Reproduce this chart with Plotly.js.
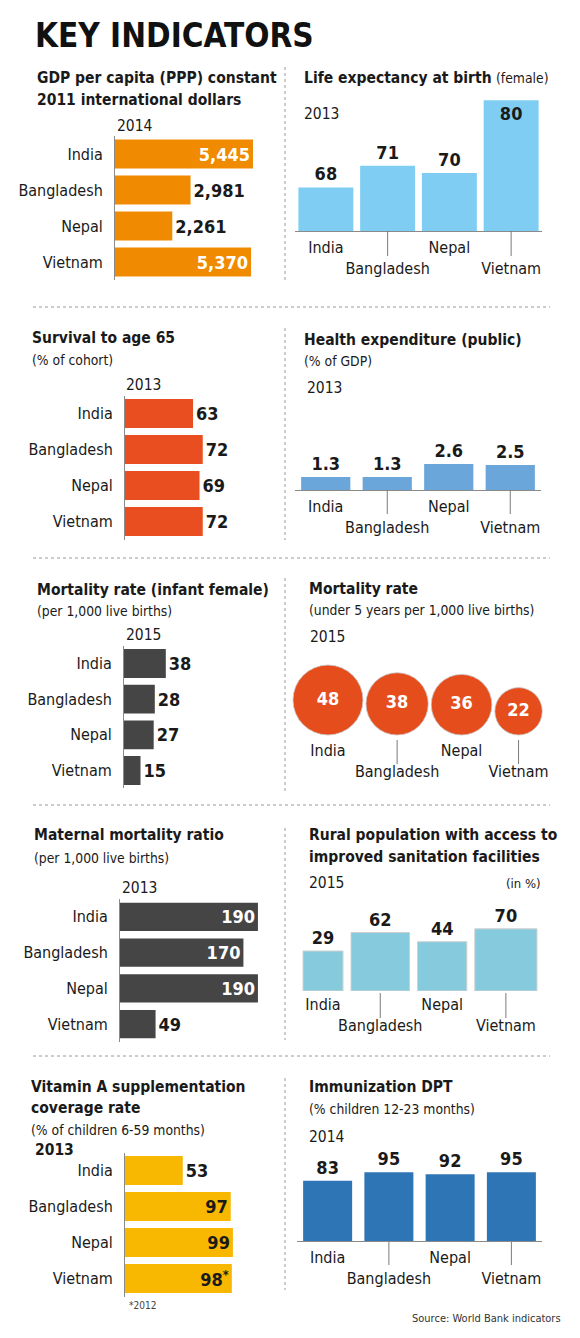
<!DOCTYPE html>
<html><head><meta charset="utf-8">
<script src="https://cdn.plot.ly/plotly-3.0.1.min.js"></script>
<style>html,body{margin:0;padding:0;background:#fff}</style>
</head><body><div id="chart" style="width:580px;height:1338px"></div>
<script>
// ---------------- DATA ----------------
const countries = ['India', 'Bangladesh', 'Nepal', 'Vietnam'];
const gdpPerCapita = [5445, 2981, 2261, 5370];        // 2014, PPP constant 2011 intl $
const lifeExpFemale = [68, 71, 70, 80];               // 2013
const survivalTo65 = [63, 72, 69, 72];                // 2013, % of cohort
const healthExpPublic = [1.3, 1.3, 2.6, 2.5];         // 2013, % of GDP
const infantMortFemale = [38, 28, 27, 15];            // 2015, per 1,000
const under5Mort = [48, 38, 36, 22];                  // 2015, per 1,000
const maternalMort = [190, 170, 190, 49];             // 2013
const ruralSanitation = [29, 62, 44, 70];             // 2015, %
const vitaminA = [53, 97, 99, 98];                    // 2013, %
const vitaminANotes = ['', '', '', '*'];              // * = 2012
const dptImmunization = [83, 95, 92, 95];             // 2014, %

// ---------------- STYLE / LAYOUT ----------------
const W = 580, H = 1338;
const FX = p => p / W, FY = p => 1 - p / H;
const FONT = "'DejaVu Sans Condensed', 'Liberation Sans', sans-serif";
const INK = '#1a1a1a', AXIS = '#8a8a8a';
const T_SIZE = 15.5, SUB_SIZE = 13.8, YEAR_SIZE = 15.5, TICK_SIZE = 16, VAL_SIZE = 18;

const layout = {
  width: W, height: H, margin: {l: 0, r: 0, t: 0, b: 0},
  paper_bgcolor: '#fff', plot_bgcolor: 'rgba(0,0,0,0)', showlegend: false,
  font: {family: FONT, color: INK, size: TICK_SIZE},
  annotations: [], shapes: []
};
const traces = [];
const stagger = names => names.map((c, i) => i % 2 ? '<br>' + c : c);

function note(text, x, y, size, opts) {
  layout.annotations.push(Object.assign({
    text, x: FX(x), y: FY(y), xref: 'paper', yref: 'paper', xanchor: 'left', yanchor: 'middle',
    showarrow: false, font: {family: FONT, size: size, color: INK}
  }, opts || {}));
}
function leader(ax, xv, y0, y1) {
  layout.shapes.push({type: 'line', xref: 'x' + ax, yref: 'paper', x0: xv, x1: xv,
    y0: FY(y0), y1: FY(y1), line: {color: '#7a7a7a', width: 1}});
}

// Horizontal bar panel
function hbar(n, vals, color, xRange, xPx, yPx, barW, insideMin, insideColor, labels) {
  const ax = n === 1 ? '' : String(n);
  layout['xaxis' + ax] = {domain: [FX(xPx[0]), FX(xPx[1])], range: xRange, visible: false,
    fixedrange: true, anchor: 'y' + ax};
  layout['yaxis' + ax] = {domain: [FY(yPx[1]), FY(yPx[0])], type: 'category', autorange: 'reversed',
    showline: true, linecolor: AXIS, linewidth: 1, ticks: '', showgrid: false, zeroline: false,
    tickfont: {family: FONT, size: TICK_SIZE, color: INK}, ticklabelstandoff: 8, anchor: 'x' + ax};
  const inside = vals.map(v => insideMin !== null && v >= insideMin);
  traces.push({
    type: 'bar', orientation: 'h', x: vals, y: countries, xaxis: 'x' + ax, yaxis: 'y' + ax,
    width: barW, marker: {color: color, line: {width: 0}},
    text: labels, textposition: inside.map(f => f ? 'inside' : 'outside'),
    insidetextanchor: 'end', constraintext: 'none', textangle: 0, cliponaxis: false,
    textfont: {family: FONT, size: VAL_SIZE, color: inside.map(f => f ? insideColor : INK), weight: 'bold'},
    hoverinfo: 'none'
  });
}

// Vertical bar panel
function vbar(n, vals, color, yRange, xPx, yPx, barW, insideMin, labels, leaderPx) {
  const ax = String(n);
  layout['xaxis' + ax] = {domain: [FX(xPx[0]), FX(xPx[1])], type: 'category',
    showline: true, linecolor: AXIS, linewidth: 1, ticks: '', showgrid: false, zeroline: false,
    tickvals: countries, ticktext: stagger(countries), ticklabelstandoff: 2, tickangle: 0,
    tickfont: {family: FONT, size: TICK_SIZE, color: INK}, anchor: 'y' + ax};
  layout['yaxis' + ax] = {domain: [FY(yPx[1]), FY(yPx[0])], range: yRange, visible: false, anchor: 'x' + ax};
  const inside = vals.map(v => insideMin !== null && v >= insideMin);
  traces.push({
    type: 'bar', x: countries, y: vals, xaxis: 'x' + ax, yaxis: 'y' + ax, width: barW,
    marker: {color: color, line: {width: 0}},
    text: labels, textposition: inside.map(f => f ? 'inside' : 'outside'),
    insidetextanchor: 'end', constraintext: 'none', textangle: 0, cliponaxis: false,
    textfont: {family: FONT, size: VAL_SIZE, color: INK, weight: 'bold'}, hoverinfo: 'none'
  });
  countries.forEach((c, i) => { if (i % 2) leader(ax, c, leaderPx[0], leaderPx[1]); });
}

// ---------- Title ----------
note('<b>KEY INDICATORS</b>', 33, 36, 33, {font: {family: FONT, size: 33, color: '#111'}});

// ---------- Panel 1: GDP ----------
note('<b>GDP per capita (PPP) constant</b>', 35, 78, T_SIZE);
note('<b>2011 international dollars</b>', 35, 100, T_SIZE);
note('2014', 115, 126, YEAR_SIZE);
hbar(1, gdpPerCapita, '#f08a00', [0, 6117], [115, 270], [136, 280], 0.8, 4000, '#fff',
  gdpPerCapita.map(v => v.toLocaleString('en-US')));

// ---------- Panel 2: Life expectancy ----------
note('<b>Life expectancy at birth</b> <span style="font-size:13.8px">(female)</span>', 302, 78, T_SIZE);
note('2013', 302, 114, YEAR_SIZE);
vbar(2, lifeExpFemale, '#7fcdf3', [62, 81], [295, 542], [93, 231], 0.89, 80,
  lifeExpFemale.map(String), [231, 256]);

// ---------- Panel 3: Survival ----------
note('<b>Survival to age 65</b>', 30, 338, T_SIZE);
note('(% of cohort)', 30, 360, SUB_SIZE);
note('2013', 124, 385, YEAR_SIZE);
hbar(3, survivalTo65, '#e84e1f', [0, 100], [125, 233], [395.5, 539.5], 0.8, null, '#fff',
  survivalTo65.map(String));

// ---------- Panel 4: Health expenditure ----------
note('<b>Health expenditure (public)</b>', 302, 340, T_SIZE);
note('(% of GDP)', 302, 361, SUB_SIZE);
note('2013', 305, 388, YEAR_SIZE);
vbar(4, healthExpPublic, '#6aa6da', [0, 5], [295, 541], [440, 490], 0.8, null,
  healthExpPublic.map(v => v.toFixed(1)), [490, 514]);

// ---------- Panel 5: Infant mortality ----------
note('<b>Mortality rate (infant female)</b>', 35, 590, T_SIZE);
note('(per 1,000 live births)', 35, 611, SUB_SIZE);
note('2015', 124, 635, YEAR_SIZE);
hbar(5, infantMortFemale, '#454545', [0, 100], [124, 234], [645.7, 788.3], 0.81, null, '#fff',
  infantMortFemale.map(String));

// ---------- Panel 6: Under-5 mortality (bubbles) ----------
note('<b>Mortality rate</b>', 307, 589, T_SIZE);
note('(under 5 years per 1,000 live births)', 307, 610, SUB_SIZE);
note('2015', 308, 637, YEAR_SIZE);
(function () {
  const sizeref = 0.0196, gap = 3, startPad = 3;
  const radii = under5Mort.map(v => Math.sqrt(v / 2 / sizeref));
  const cx = []; let pos = startPad;
  radii.forEach((r, i) => { if (i) pos += gap; cx.push(pos + r); pos += 2 * r; });
  layout.xaxis6 = {domain: [FX(290), FX(570)], range: [0, 280], showline: false, ticks: '',
    showgrid: false, zeroline: false, tickvals: cx, ticktext: stagger(countries), ticklabelstandoff: 4,
    tickangle: 0, tickfont: {family: FONT, size: TICK_SIZE, color: INK}, anchor: 'y6'};
  layout.yaxis6 = {domain: [FY(735), FY(645)], range: [0, 90], visible: false, anchor: 'x6'};
  traces.push({type: 'scatter', mode: 'markers+text', x: cx, y: radii, xaxis: 'x6', yaxis: 'y6',
    marker: {size: under5Mort, sizemode: 'area', sizeref: sizeref, color: '#e64d1c', opacity: 1,
      line: {color: 'rgba(200,200,200,0.8)', width: 1}},
    text: under5Mort.map(String), textposition: 'middle center', cliponaxis: false,
    textfont: {family: FONT, size: VAL_SIZE, color: '#fff', weight: 'bold'}, hoverinfo: 'none'});
  cx.forEach((x, i) => { if (i % 2) leader('6', x, 740, 764); });
})();

// ---------- Panel 7: Maternal mortality ----------
note('<b>Maternal mortality ratio</b>', 32, 835, T_SIZE);
note('(per 1,000 live births)', 32, 858, SUB_SIZE);
note('2013', 120, 888, YEAR_SIZE);
hbar(7, maternalMort, '#454545', [0, 200], [120, 265.2], [899, 1042], 0.79, 100, '#fff',
  maternalMort.map(String));

// ---------- Panel 8: Rural sanitation (squares) ----------
note('<b>Rural population with access to</b>', 307, 835, T_SIZE);
note('<b>improved sanitation facilities</b>', 307, 857, T_SIZE);
note('2015', 307, 883, YEAR_SIZE);
note('(in %)', 543, 883, 13, {xanchor: 'right'});
(function () {
  const k = 7.43, gap = 8, startPad = 8;
  const sides = ruralSanitation.map(v => k * Math.sqrt(v));
  const cx = []; let pos = startPad;
  sides.forEach((s, i) => { if (i) pos += gap; cx.push(pos + s / 2); pos += s; });
  layout.xaxis8 = {domain: [FX(295), FX(560)], range: [0, 265], showline: false, ticks: '',
    showgrid: false, zeroline: false, tickvals: cx, ticktext: stagger(countries), ticklabelstandoff: 2,
    tickangle: 0, tickfont: {family: FONT, size: TICK_SIZE, color: INK}, anchor: 'y8'};
  layout.yaxis8 = {domain: [FY(991), FY(895)], range: [0, 96], visible: false, anchor: 'x8'};
  traces.push({type: 'bar', x: cx, y: sides, width: sides, base: 0, xaxis: 'x8', yaxis: 'y8',
    marker: {color: '#86cbdd', line: {color: '#d0d0d0', width: 1}},
    text: ruralSanitation.map(String), textposition: 'outside', constraintext: 'none', textangle: 0,
    cliponaxis: false, textfont: {family: FONT, size: VAL_SIZE, color: INK, weight: 'bold'}, hoverinfo: 'none'});
  cx.forEach((x, i) => { if (i % 2) leader('8', x, 993, 1018); });
})();

// ---------- Panel 9: Vitamin A ----------
note('<b>Vitamin A supplementation</b>', 29, 1087, T_SIZE);
note('<b>coverage rate</b>', 29, 1108, T_SIZE);
note('(% of children 6-59 months)', 29, 1130, SUB_SIZE);
note('<b>2013</b>', 33, 1150, YEAR_SIZE);
note('*2012', 127, 1305, 10, {font: {family: FONT, size: 10, color: '#444'}});
hbar(9, vitaminA, '#f8b700', [0, 100], [125, 234], [1152.5, 1296.5], 0.8, 60, INK,
  vitaminA.map((v, i) => vitaminANotes[i] ? v + '<sup>' + vitaminANotes[i] + '</sup>' : String(v)));

// ---------- Panel 10: DPT ----------
note('<b>Immunization DPT</b>', 307, 1087, T_SIZE);
note('(% children 12-23 months)', 307, 1109, SUB_SIZE);
note('2014', 307, 1137, YEAR_SIZE);
vbar(10, dptImmunization, '#2e75b6', [0, 100], [297, 542], [1168.5, 1241], 0.8, null,
  dptImmunization.map(String), [1242, 1265]);
note('Source: World Bank indicators', 563, 1318, 11, {xanchor: 'right', font: {family: FONT, size: 11, color: '#333'}});

// ---------- Separators ----------
[307, 558, 805, 1056].forEach(y => layout.shapes.push({type: 'line', xref: 'paper', yref: 'paper',
  x0: FX(33), x1: FX(550), y0: FY(y), y1: FY(y), line: {color: '#9a9a9a', width: 1, dash: 'dot'}}));
[[67, 283], [328, 540], [578, 792], [828, 1040], [1078, 1290]].forEach(s => layout.shapes.push({
  type: 'line', xref: 'paper', yref: 'paper', x0: FX(285), x1: FX(285), y0: FY(s[0]), y1: FY(s[1]),
  line: {color: '#9a9a9a', width: 1, dash: 'dot'}}));

Plotly.newPlot('chart', traces, layout, {staticPlot: true, displayModeBar: false});
</script></body></html>
